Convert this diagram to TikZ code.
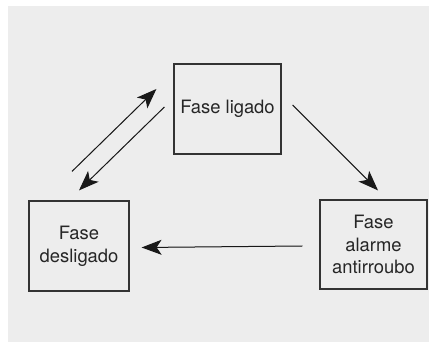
\documentclass[tikz,border=0pt]{standalone}
\usepackage{fontspec}
\setmainfont{TeX Gyre Heros}
\usetikzlibrary{arrows.meta}
\definecolor{panelgray}{HTML}{EDEDED}
\definecolor{linegray}{HTML}{333333}
\tikzset{
  phase/.style={draw=linegray, line width=1.2pt, fill=panelgray, align=center,
    text=black!85, inner sep=0pt, font=\fontsize{18.4}{22.8}\selectfont},
  trans/.style={line width=1pt, draw=black!90, fill=black!90, ->,
    >={Stealth[length=20pt,width=15pt,inset=5pt]}}
}
\begin{document}
\begin{tikzpicture}[x=1pt,y=1pt]
\useasboundingbox (0,0) rectangle (431,342);
\fill [panelgray] (8,0) rectangle (429,336);
% the three phases
\node (lig) [phase, minimum width=107pt, minimum height=90pt] at (227.5,233) {Fase ligado};
\node (desl) [phase, minimum width=100pt, minimum height=90pt] at (79,96) {Fase\\desligado};
\node (alarm) [phase, minimum width=107pt, minimum height=89pt] at (373.5,97.5) {Fase\\alarme\\antirroubo};
% loose ends of the transitions
\coordinate (up0) at ([shift={(-7,29)}]desl.north);
\coordinate (up1) at ([shift={(-17,20)}]lig.west);
\coordinate (dn0) at ([shift={(-9,2)}]lig.west);
\coordinate (dn1) at ([shift={(0,10)}]desl.north);
\coordinate (rt0) at ([shift={(11,4)}]lig.east);
\coordinate (rt1) at ([shift={(4.5,9)}]alarm.north);
\coordinate (bk0) at ([shift={(-17,-1.5)}]alarm.west);
\coordinate (bk1) at ([shift={(12,-1.5)}]desl.east);
\draw [trans] (up0) -- (up1);
\draw [trans] (dn0) -- (dn1);
\draw [trans] (rt0) -- (rt1);
\draw [trans] (bk0) -- (bk1);
\end{tikzpicture}
\end{document}
